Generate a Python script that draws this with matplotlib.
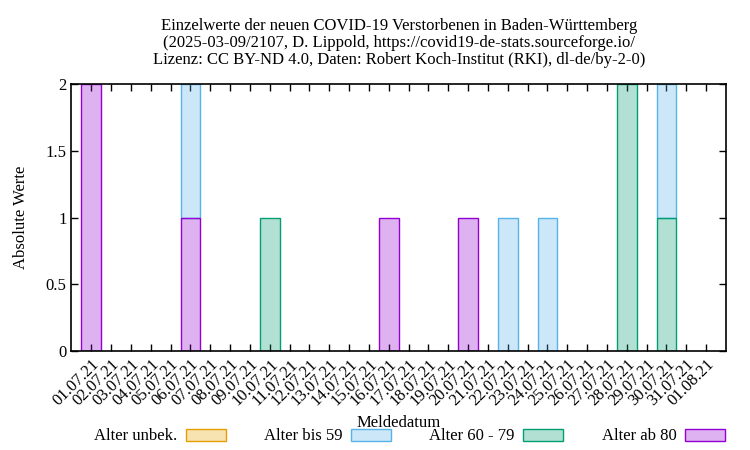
import matplotlib
matplotlib.use("Agg")
import matplotlib.pyplot as plt
import numpy as np

plt.rcParams['font.family'] = ['Liberation Serif', 'DejaVu Serif']

# Meldedatum 01.07.21 .. 01.08.21
dates = ["%02d.07.21" % d for d in range(1, 32)] + ["01.08.21"]

# Verstorbene je Altersgruppe (Einzelwerte)
ab80 = [2, 0, 0, 0, 0, 1, 0, 0, 0, 0, 0, 0, 0, 0, 0, 1,
        0, 0, 0, 1, 0, 0, 0, 0, 0, 0, 0, 0, 0, 0, 0, 0]
a60_79 = [0, 0, 0, 0, 0, 0, 0, 0, 0, 1, 0, 0, 0, 0, 0, 0,
          0, 0, 0, 0, 0, 0, 0, 0, 0, 0, 0, 2, 0, 1, 0, 0]
bis59 = [0, 0, 0, 0, 0, 1, 0, 0, 0, 0, 0, 0, 0, 0, 0, 0,
         0, 0, 0, 0, 0, 1, 0, 1, 0, 0, 0, 0, 0, 1, 0, 0]
unbek = [0] * 32

cols = {"unbek": "#e69f00", "bis59": "#56b4e9", "60_79": "#009e73", "ab80": "#9400d3"}

def fillc(c, a=0.3):
    r, g, b = matplotlib.colors.to_rgb(c)
    return (r, g, b, a)

fig = plt.figure(figsize=(7.5, 4.5), dpi=100)
ax = fig.add_axes([0.0953, 0.22, 0.8727, 0.5933])

x = np.arange(len(dates))
bottom = np.zeros(len(dates))
# stacked bottom-up: ab 80, 60-79, bis 59, unbek. lower ones drawn on top
stack = [(ab80, "ab80"), (a60_79, "60_79"), (bis59, "bis59"), (unbek, "unbek")]
for i, (vals, key) in enumerate(stack):
    v = np.array(vals, dtype=float)
    lw = np.where(v > 0, 1.0, 0.0)
    ax.bar(x, v, width=1.0, bottom=bottom, facecolor=fillc(cols[key]),
           edgecolor=cols[key], linewidth=lw, zorder=10 - i)
    bottom += v

ax.set_xlim(-1, 32)
ax.set_ylim(0, 2)
ax.set_yticks([0, 0.5, 1, 1.5, 2])
ax.set_yticklabels(["0", "0.5", "1", "1.5", "2"])
ax.set_xticks(x)
ax.set_xticklabels(dates, rotation=45, ha='right', va='top', rotation_mode='anchor')
ax.tick_params(direction='in', top=True, right=True, length=5, width=1, labelsize=12)
ax.tick_params(axis='x', pad=4)
for s in ax.spines.values():
    s.set_linewidth(1.2)
    s.set_zorder(20)

ax.set_ylabel("Absolute Werte", fontsize=12, labelpad=12)
fig.text(0.532, 0.06, "Meldedatum", ha='center', va='center', fontsize=12)

fig.text(0.532, 0.905,
         "Einzelwerte der neuen COVID-19 Verstorbenen in Baden-Württemberg\n"
         "(2025-03-09/2107, D. Lippold, https://covid19-de-stats.sourceforge.io/\n"
         "Lizenz: CC BY-ND 4.0, Daten: Robert Koch-Institut (RKI), dl-de/by-2-0)",
         ha='center', va='center', fontsize=12, linespacing=1.1)

handles = [matplotlib.patches.Patch(facecolor=fillc(cols[k]), edgecolor=cols[k], linewidth=1)
           for k in ["unbek", "bis59", "60_79", "ab80"]]
labels = ["Alter unbek.", "Alter bis 59", "Alter 60 - 79", "Alter ab 80"]
fig.legend(handles, labels, ncol=4, loc='center', bbox_to_anchor=(0.546, 0.03),
           frameon=False, markerfirst=False, fontsize=12, handlelength=2.4,
           handleheight=0.7, columnspacing=2.3, handletextpad=0.5)

fig.savefig("out.png", dpi=100)
